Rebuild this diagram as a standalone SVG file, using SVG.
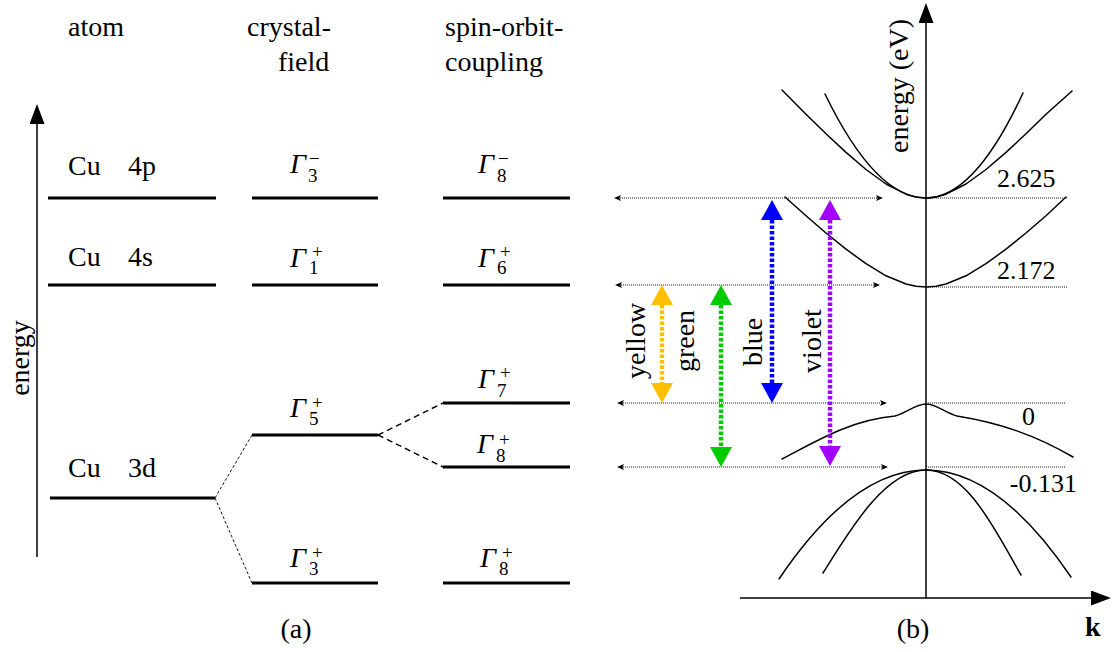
<svg xmlns="http://www.w3.org/2000/svg" width="1112" height="652" viewBox="0 0 1112 652" font-family="Liberation Serif">
<rect width="1112" height="652" fill="#fff"/>
<defs>
<marker id="ah" markerUnits="userSpaceOnUse" viewBox="0 0 20 15" refX="0" refY="7.5" markerWidth="20" markerHeight="15" orient="auto"><path d="M0,0 L20,7.5 L0,15 Z" fill="#000"/></marker>
<marker id="sm" markerUnits="userSpaceOnUse" viewBox="0 0 7 6" refX="1" refY="3" markerWidth="7" markerHeight="6" orient="auto-start-reverse"><path d="M0,0 L7,3 L0,6 L1.5,3 Z" fill="#000"/></marker>
<marker id="my" markerUnits="userSpaceOnUse" viewBox="0 0 20 22" refX="0" refY="11" markerWidth="20" markerHeight="22" orient="auto-start-reverse"><path d="M0,0 L20,11 L0,22 Z" fill="#ffbf00"/></marker>
<marker id="mg" markerUnits="userSpaceOnUse" viewBox="0 0 20 22" refX="0" refY="11" markerWidth="20" markerHeight="22" orient="auto-start-reverse"><path d="M0,0 L20,11 L0,22 Z" fill="#00cc00"/></marker>
<marker id="mb" markerUnits="userSpaceOnUse" viewBox="0 0 20 22" refX="0" refY="11" markerWidth="20" markerHeight="22" orient="auto-start-reverse"><path d="M0,0 L20,11 L0,22 Z" fill="#0000ff"/></marker>
<marker id="mv" markerUnits="userSpaceOnUse" viewBox="0 0 20 22" refX="0" refY="11" markerWidth="20" markerHeight="22" orient="auto-start-reverse"><path d="M0,0 L20,11 L0,22 Z" fill="#a400ff"/></marker>
</defs>

<g id="headings">
<text font-family="Liberation Serif" font-size="28" x="68" y="36">atom</text>
<text font-family="Liberation Serif" font-size="28" x="247" y="36">crystal-</text>
<text font-family="Liberation Serif" font-size="28" x="278" y="71">field</text>
<text font-family="Liberation Serif" font-size="28" x="445" y="36">spin-orbit-</text>
<text font-family="Liberation Serif" font-size="28" x="445" y="71">coupling</text>
</g>

<g id="energy-axis">
<line stroke="#000" stroke-width="1.5" x1="37" y1="557" x2="37" y2="124" marker-end="url(#ah)"/>
<text font-family="Liberation Serif" font-size="28" transform="translate(29,358) rotate(-90)" text-anchor="middle">energy</text>
</g>

<g id="atom-4p"><line stroke="#000" stroke-width="3" x1="48" y1="198" x2="216" y2="198"/><text font-family="Liberation Serif" font-size="28" x="68" y="175">Cu<tspan x="128">4p</tspan></text></g>
<g id="atom-4s"><line stroke="#000" stroke-width="3" x1="48" y1="285" x2="216" y2="285"/><text font-family="Liberation Serif" font-size="28" x="68" y="266">Cu<tspan x="128">4s</tspan></text></g>
<g id="atom-3d"><line stroke="#000" stroke-width="3" x1="50" y1="498" x2="215" y2="498"/><text font-family="Liberation Serif" font-size="28" x="68" y="477">Cu<tspan x="128">3d</tspan></text></g>

<g id="cf-G3m"><line stroke="#000" stroke-width="3" x1="252" y1="198" x2="378" y2="198"/><text font-family="Liberation Serif" font-size="28" font-style="italic" x="290" y="173">Γ<tspan font-style="normal" font-size="19" x="308" y="182">3</tspan><tspan font-style="normal" font-size="19" x="309" y="165">−</tspan></text></g>
<g id="cf-G1p"><line stroke="#000" stroke-width="3" x1="252" y1="285" x2="378" y2="285"/><text font-family="Liberation Serif" font-size="28" font-style="italic" x="290" y="267">Γ<tspan font-style="normal" font-size="19" x="309" y="274">1</tspan><tspan font-style="normal" font-size="19" x="312" y="258">+</tspan></text></g>
<g id="cf-G5p"><line stroke="#000" stroke-width="3" x1="252" y1="435" x2="378" y2="435"/><text font-family="Liberation Serif" font-size="28" font-style="italic" x="290" y="417">Γ<tspan font-style="normal" font-size="19" x="309" y="425">5</tspan><tspan font-style="normal" font-size="19" x="312" y="409">+</tspan></text></g>
<g id="cf-G3p"><line stroke="#000" stroke-width="3" x1="252" y1="583" x2="378" y2="583"/><text font-family="Liberation Serif" font-size="28" font-style="italic" x="290" y="567">Γ<tspan font-style="normal" font-size="19" x="309" y="575">3</tspan><tspan font-style="normal" font-size="19" x="312" y="559">+</tspan></text></g>

<g id="so-G8m"><line stroke="#000" stroke-width="3" x1="443" y1="198" x2="570" y2="198"/><text font-family="Liberation Serif" font-size="28" font-style="italic" x="478" y="173">Γ<tspan font-style="normal" font-size="19" x="497" y="182">8</tspan><tspan font-style="normal" font-size="19" x="498" y="165">−</tspan></text></g>
<g id="so-G6p"><line stroke="#000" stroke-width="3" x1="443" y1="285" x2="570" y2="285"/><text font-family="Liberation Serif" font-size="28" font-style="italic" x="478" y="267">Γ<tspan font-style="normal" font-size="19" x="497" y="274">6</tspan><tspan font-style="normal" font-size="19" x="500" y="258">+</tspan></text></g>
<g id="so-G7p"><line stroke="#000" stroke-width="3" x1="443" y1="403" x2="570" y2="403"/><text font-family="Liberation Serif" font-size="28" font-style="italic" x="478" y="388">Γ<tspan font-style="normal" font-size="19" x="497" y="397">7</tspan><tspan font-style="normal" font-size="19" x="500" y="379">+</tspan></text></g>
<g id="so-G8p-a"><line stroke="#000" stroke-width="3" x1="443" y1="467" x2="570" y2="467"/><text font-family="Liberation Serif" font-size="28" font-style="italic" x="477" y="453">Γ<tspan font-style="normal" font-size="19" x="496" y="462">8</tspan><tspan font-style="normal" font-size="19" x="499" y="446">+</tspan></text></g>
<g id="so-G8p-b"><line stroke="#000" stroke-width="3" x1="443" y1="583" x2="570" y2="583"/><text font-family="Liberation Serif" font-size="28" font-style="italic" x="480" y="567">Γ<tspan font-style="normal" font-size="19" x="499" y="575">8</tspan><tspan font-style="normal" font-size="19" x="502" y="559">+</tspan></text></g>

<g id="connectors" stroke="#000" fill="none">
<g stroke-width="0.9" stroke-dasharray="3 2">
<line x1="215" y1="498" x2="252" y2="435"/>
<line x1="215" y1="498" x2="252" y2="583"/>
</g>
<g stroke-width="1.4" stroke-dasharray="6 4">
<line x1="378" y1="435" x2="443" y2="403"/>
<line x1="378" y1="435" x2="443" y2="467"/>
</g>
</g>

<text font-family="Liberation Serif" font-size="28" x="296" y="638" text-anchor="middle">(a)</text>

<g id="band-panel">
<line stroke="#000" stroke-width="1.5" x1="926" y1="598" x2="926" y2="23" marker-end="url(#ah)"/>
<line stroke="#000" stroke-width="1.5" x1="740" y1="598" x2="1091" y2="598" marker-end="url(#ah)"/>
<text font-family="Liberation Serif" font-size="28" transform="translate(908,86) rotate(-90)" text-anchor="middle">energy (eV)</text>
<text font-family="Liberation Serif" font-size="28" font-weight="bold" x="1085" y="636">k</text>
<text font-family="Liberation Serif" font-size="28" x="913" y="638" text-anchor="middle">(b)</text>

<g stroke="#000" stroke-width="1.5" fill="none" stroke-linejoin="round" stroke-linecap="round">
<path d="M782,90 L806,114.3 L826,133.8 L846,152.4 L866,169.5 L886,184 L906,194.2 L916,197 L926,198 L936,197 L946,194.2 L966,184 L986,169.5 L1006,152.4 L1026,133.8 L1046,114.3 L1072,91"/>
<path d="M825,94 Q875.5,198 926,198 Q974.5,198 1023,93"/>
<path d="M785,197 L806,215.8 L826,233 L846,249.1 L866,263.7 L886,275.8 L906,284 L916,286.3 L926,287 L936,286.3 L946,284 L966,275.8 L986,263.7 L1006,249.1 L1026,233 L1046,215.8 L1066,197"/>
<path d="M782,459 C815,442 850,420 895,416 C907,413 915,404 926,404 C937,404 945,413 957,416 C1000,423 1035,435 1073,457"/>
<path d="M779,579 Q852.5,470 926,470 Q998.5,470 1071,577"/>
<path d="M823,573 C850,530 885,470 926,470 C967,470 995,530 1021,575"/>
</g>

<g stroke="#000" stroke-width="0.9" fill="none" stroke-dasharray="1 1">
<line x1="620" y1="198" x2="877" y2="198" marker-start="url(#sm)" marker-end="url(#sm)"/>
<line x1="621" y1="285" x2="874" y2="285" marker-start="url(#sm)" marker-end="url(#sm)"/>
<line x1="623" y1="403" x2="881" y2="403" marker-start="url(#sm)" marker-end="url(#sm)"/>
<line x1="623" y1="467" x2="882" y2="467" marker-start="url(#sm)" marker-end="url(#sm)"/>
<line x1="926" y1="198" x2="1067" y2="198"/>
<line x1="926" y1="287" x2="1067" y2="287"/>
<line x1="926" y1="403" x2="1065" y2="403"/>
<line x1="926" y1="467" x2="1066" y2="467"/>
</g>

<text font-family="Liberation Serif" font-size="26" x="997" y="187">2.625</text>
<text font-family="Liberation Serif" font-size="26" x="997" y="279">2.172</text>
<text font-family="Liberation Serif" font-size="26" x="1022" y="425">0</text>
<text font-family="Liberation Serif" font-size="26" x="1077" y="492" text-anchor="end">-0.131</text>

<g stroke-width="4.5" fill="none" stroke-dasharray="3.5 2">
<line stroke="#ffbf00" x1="662" y1="305" x2="662" y2="383" marker-start="url(#my)" marker-end="url(#my)"/>
<line stroke="#00cc00" x1="721" y1="305" x2="721" y2="447" marker-start="url(#mg)" marker-end="url(#mg)"/>
<line stroke="#0000ff" x1="772" y1="220" x2="772" y2="383" marker-start="url(#mb)" marker-end="url(#mb)"/>
<line stroke="#a400ff" x1="830" y1="220" x2="830" y2="446" marker-start="url(#mv)" marker-end="url(#mv)"/>
</g>
<text font-family="Liberation Serif" font-size="28" transform="translate(645,341) rotate(-90)" text-anchor="middle">yellow</text>
<text font-family="Liberation Serif" font-size="28" transform="translate(694,341) rotate(-90)" text-anchor="middle">green</text>
<text font-family="Liberation Serif" font-size="28" transform="translate(762,342) rotate(-90)" text-anchor="middle">blue</text>
<text font-family="Liberation Serif" font-size="28" transform="translate(821,341) rotate(-90)" text-anchor="middle">violet</text>
</g>
</svg>
